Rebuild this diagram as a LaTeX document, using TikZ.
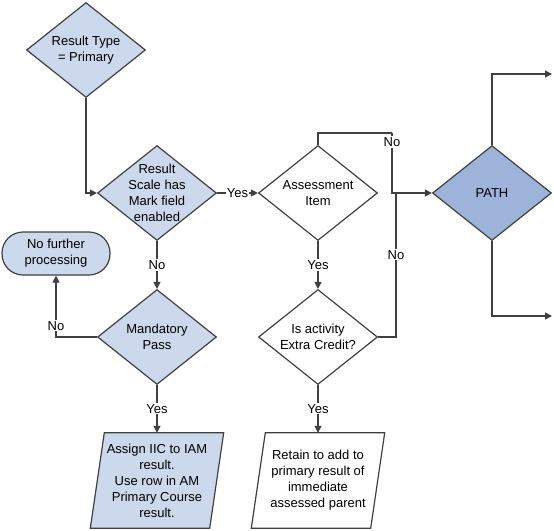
\documentclass[tikz,border=0pt]{standalone}
\usepackage{fontspec}
\setmainfont{Liberation Sans}
\usetikzlibrary{shapes.geometric,arrows.meta,calc,backgrounds}
\definecolor{lb}{HTML}{CCD8EB}
\definecolor{pb}{HTML}{9DB3D9}
\definecolor{ln}{HTML}{404040}
\begin{document}
\begin{tikzpicture}[x=1pt,y=-1pt,
  font=\fontsize{13}{16}\selectfont,
  dia/.style={diamond, draw=ln, line width=1.2pt, minimum width=119pt, minimum height=95pt, inner sep=0pt},
  term/.style={draw=ln, fill=lb, line width=1.2pt, rounded corners=21pt, minimum width=108pt, minimum height=43pt, inner sep=0pt, align=center},
  para/.style={minimum width=119pt, minimum height=95pt, inner sep=0pt, align=center},
  lab/.style={fill=white, inner sep=1pt},
  con/.style={draw=ln, line width=1.2pt},
  arr/.style={con, -{Triangle[length=7pt,width=7pt]}}]
\useasboundingbox (0,0) rectangle (554,530);

\node[dia, fill=lb, label={[align=center]center:Result Type\\= Primary}] (d1) at (86,50) {};
\node[dia, fill=lb, label={[align=center]center:Result\\Scale has\\Mark field\\enabled}] (d2) at (157,193) {};
\node[dia, fill=white, label={[align=center]center:Assessment\\Item}] (d3) at (318,193) {};
\node[dia, fill=pb] (pth) at (492,193) {PATH};
\node[dia, fill=lb, label={[align=center]center:Mandatory\\Pass}] (d5) at (157,337) {};
\node[dia, fill=white, label={[align=center]center:Is activity\\Extra Credit?}] (d4) at (318,337) {};
\node[term] (term) at (56,253.5) {No further\\processing};
\node[para] (assign) at (157,480.5) {Assign IIC to IAM\\result.\\Use row in AM\\Primary Course\\result.};
\node[para] (retain) at (318,480.5) {Retain to add to\\primary result of\\immediate\\assessed parent};

\begin{scope}[on background layer]
\draw[con, fill=lb] ($(assign.north west)+(7,0)$) -- ($(assign.north east)+(7,0)$) -- ($(assign.south east)+(-7,0)$) -- ($(assign.south west)+(-7,0)$) -- cycle;
\draw[con, fill=white] ($(retain.north west)+(7,0)$) -- ($(retain.north east)+(7,0)$) -- ($(retain.south east)+(-7,0)$) -- ($(retain.south west)+(-7,0)$) -- cycle;
\end{scope}

\coordinate (j1) at (392,133);
\coordinate (j2) at (396,193);
\coordinate (o1) at (552,74);
\coordinate (o2) at (552,316);

\draw[arr] (d1.south) |- (d2.west);
\draw[arr] (d2.east) -- node[lab]{Yes} (d3.west);
\draw[arr] (d2.south) -- node[lab]{No} (d5.north);
\draw[arr] (d3.south) -- node[lab]{Yes} (d4.north);
\draw[arr] (d5.south) -- node[lab]{Yes} (assign.north);
\draw[arr] (d4.south) -- node[lab]{Yes} (retain.north);
\draw[arr] (d5.west) -| node[lab, pos=0.59]{No} (term.south);
\draw[con] (d3.north) |- (j1);
\draw[arr] (j1) |- node[lab, pos=0.075]{No} (pth.west);
\draw[con] (d4.east) -| node[lab, pos=0.785]{No} (j2);
\draw[arr] (pth.north) |- (o1);
\draw[arr] (pth.south) |- (o2);
\end{tikzpicture}
\end{document}
